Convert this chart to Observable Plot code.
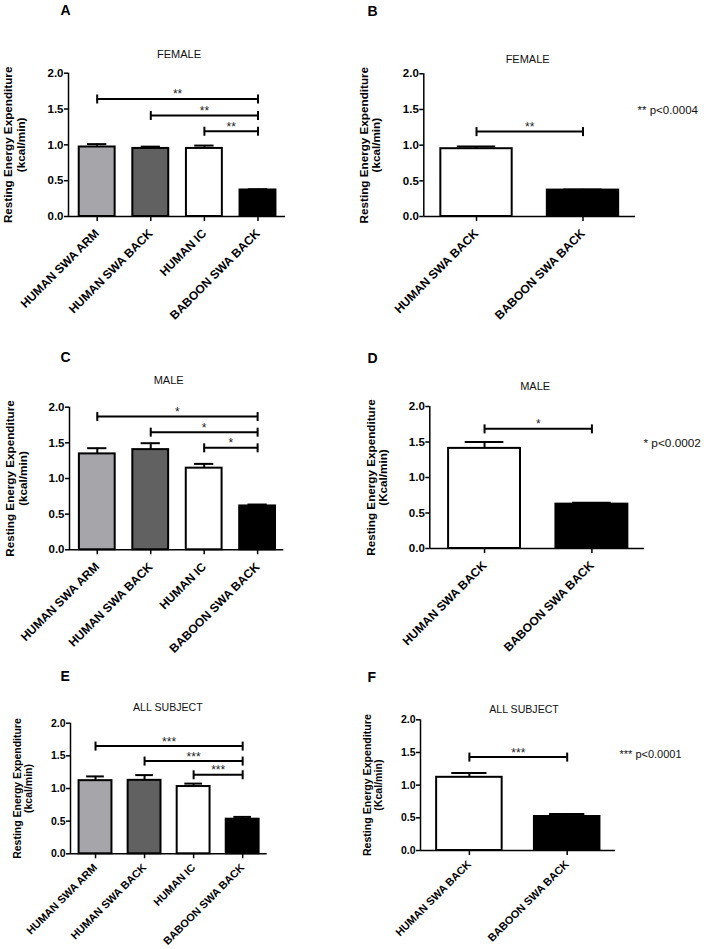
<!DOCTYPE html>
<html>
<head>
<meta charset="utf-8">
<script src="https://cdn.jsdelivr.net/npm/d3@7"></script>
<script src="https://cdn.jsdelivr.net/npm/@observablehq/plot@0.6"></script>
<style>
  html, body { margin: 0; padding: 0; background: #fff; }
  #root { position: relative; width: 704px; height: 949px; overflow: hidden; background: #fff; }
  #root > div { position: absolute; }
</style>
</head>
<body>
<div id="root"></div>
<script>
// ---------- data ----------
const cats4 = ["HUMAN SWA ARM", "HUMAN SWA BACK", "HUMAN IC", "BABOON SWA BACK"];
const cats2 = ["HUMAN SWA BACK", "BABOON SWA BACK"];
const fills4 = ["#a6a6aa", "#616161", "#ffffff", "#000000"];
const fills2 = ["#ffffff", "#000000"];

const femaleMean4 = [0.97, 0.95, 0.95, 0.37];
const femaleSem4  = [0.04, 0.025, 0.04, 0.01];
const femaleMean2 = [0.95, 0.37];
const femaleSem2  = [0.03, 0.01];

const maleMean4 = [1.345, 1.405, 1.145, 0.615];
const maleSem4  = [0.08, 0.09, 0.06, 0.02];
const maleMean2 = [1.41, 0.625];
const maleSem2  = [0.09, 0.02];

const allMean4 = [1.12, 1.125, 1.03, 0.53];
const allSem4  = [0.065, 0.08, 0.045, 0.035];
const allMean2 = [1.12, 0.52];
const allSem2  = [0.065, 0.04];

// significance brackets: from category index -> last category
const sigFrom4 = [0, 1, 2];
const sigFrom2 = [0];
const femaleSigLevel4 = [1.64, 1.41, 1.19];
const femaleSigLevel2 = [1.19];
const maleSigLevel4 = [1.87, 1.65, 1.43];
const maleSigLevel2 = [1.685];
const allSigLevel4 = [1.65, 1.42, 1.21];
const allSigLevel2 = [1.43];

const yTicks = [0, 0.5, 1.0, 1.5, 2.0];
const yLabelLower = "Resting Energy Expenditure\n(kcal/min)";
const yLabelUpper = "Resting Energy Expenditure\n(Kcal/min)";

// ---------- helpers ----------
const FONT = "'Liberation Sans', Arial, Helvetica, sans-serif";
const vTick = {draw(ctx, size) { const r = Math.sqrt(size / Math.PI); ctx.moveTo(0, -r); ctx.lineTo(0, r); }};

function panel(cfg) {
  const cats = cfg.cats;
  const n = cats.length;
  const rows = cats.map((c, i) => ({i, name: c, mean: cfg.mean[i], sem: cfg.sem[i], fill: cfg.fills[i]}));
  const last = n - 1;
  const sig = cfg.sigFrom.map((f, k) => ({from: f, to: last, level: cfg.sigLevel[k], stars: cfg.stars}));
  const half = 0.335, cap = 0.18;
  const f = cfg.font;

  const marks = [
    // bars
    Plot.rect(rows, {x1: d => d.i - half, x2: d => d.i + half, y1: d => 0, y2: "mean",
      fill: "fill", stroke: "#000", strokeWidth: 2}),
    // error bars (upper only)
    Plot.ruleX(rows, {x: "i", y1: "mean", y2: d => d.mean + d.sem, stroke: "#000", strokeWidth: 2}),
    Plot.ruleY(rows, {y: d => d.mean + d.sem, x1: d => d.i - cap, x2: d => d.i + cap, stroke: "#000", strokeWidth: 2}),
    // axes lines
    Plot.ruleY([0], {stroke: "#000", strokeWidth: 1.5}),
    Plot.ruleX([cfg.xdom[0]], {y1: d => 0, y2: d => 2, stroke: "#000", strokeWidth: 1.5}),
    Plot.axisY({ticks: yTicks, tickFormat: d3.format(".1f"), tickSize: 4, tickPadding: 1,
      fontSize: f, fontWeight: "bold", label: null, strokeWidth: 1.5}),
    Plot.axisX({ticks: rows.map(d => d.i), tickFormat: i => cats[i], tickRotate: -45, tickSize: 5,
      tickPadding: cfg.xPad, fontSize: cfg.xFont, fontWeight: "bold", label: null, strokeWidth: 1.5}),
    // significance brackets
    Plot.ruleY(sig, {y: "level", x1: "from", x2: "to", stroke: "#000", strokeWidth: 2}),
    Plot.dot(sig, {x: "from", y: "level", symbol: vTick, r: 4.5, stroke: "#000", strokeWidth: 2, fill: "none"}),
    Plot.dot(sig, {x: "to", y: "level", symbol: vTick, r: 4.5, stroke: "#000", strokeWidth: 2, fill: "none"}),
    Plot.text(sig, {x: d => (d.from + d.to) / 2, y: "level", text: "stars", lineAnchor: "bottom",
      dy: -0.5, fontSize: 12, fontWeight: "normal", fill: "#222"}),
    // y label
    Plot.text([cfg.ylabel], {frameAnchor: "left", text: d => d, rotate: -90, dx: cfg.ylabDx,
      textAnchor: "middle", lineAnchor: "middle", lineHeight: 1.05, fontSize: cfg.ylabFont, fontWeight: "bold"}),
    // title
    Plot.text([cfg.title], {frameAnchor: "top", text: d => d, dx: cfg.titleDx, dy: cfg.titleDy,
      lineAnchor: "bottom", fontSize: cfg.titleFont, fontWeight: "normal", fill: "#111"}),
    // panel letter
    Plot.text([cfg.letter], {frameAnchor: "top-left", text: d => d, dx: cfg.letterDx, dy: cfg.letterDy,
      textAnchor: "start", lineAnchor: "bottom", fontSize: 14, fontWeight: "bold"})
  ];
  if (cfg.pval) {
    marks.push(Plot.text([cfg.pval], {frameAnchor: "top-right", text: d => d, dx: cfg.pDx, dy: cfg.pDy,
      textAnchor: "start", lineAnchor: "middle", fontSize: cfg.pFont, fontWeight: "normal", fill: "#111"}));
  }

  const chart = Plot.plot({
    width: cfg.width, height: cfg.height,
    marginTop: cfg.mt, marginRight: cfg.mr, marginBottom: cfg.mb, marginLeft: cfg.ml,
    x: {type: "linear", domain: cfg.xdom, axis: null},
    y: {domain: [0, 2], axis: null},
    style: {fontFamily: FONT, background: "transparent", overflow: "visible", color: "#000"},
    marks
  });
  const holder = document.createElement("div");
  holder.style.left = cfg.left + "px";
  holder.style.top = cfg.top + "px";
  holder.appendChild(chart);
  document.getElementById("root").appendChild(holder);
}

// ---------- panels ----------
panel({letter: "A", title: "FEMALE", cats: cats4, fills: fills4, mean: femaleMean4, sem: femaleSem4,
  sigFrom: sigFrom4, sigLevel: femaleSigLevel4, stars: "**", ylabel: yLabelLower,
  left: 0, top: 0, width: 340, height: 310, mt: 72.7, mr: 55, mb: 94, ml: 68, xdom: [-0.535, 3.513],
  font: 11.5, xFont: 12, xPad: 10, ylabFont: 11.7, ylabDx: -54, titleFont: 11, titleDx: 2, titleDy: -15.5,
  letterDx: -8, letterDy: -57.7});

panel({letter: "B", title: "FEMALE", cats: cats2, fills: fills2, mean: femaleMean2, sem: femaleSem2,
  sigFrom: sigFrom2, sigLevel: femaleSigLevel2, stars: "**", ylabel: yLabelLower,
  left: 340, top: 0, width: 364, height: 310, mt: 73.3, mr: 69, mb: 94, ml: 83.3, xdom: [-0.495, 1.493],
  font: 11.5, xFont: 12, xPad: 10, ylabFont: 11.7, ylabDx: -54, titleFont: 11, titleDx: -2, titleDy: -11,
  letterDx: -56.3, letterDy: -58.3,
  pval: "** p<0.0004", pDx: 2, pDy: 36.7, pFont: 11.5});

panel({letter: "C", title: "MALE", cats: cats4, fills: fills4, mean: maleMean4, sem: maleSem4,
  sigFrom: sigFrom4, sigLevel: maleSigLevel4, stars: "*", ylabel: yLabelLower,
  left: 0, top: 310, width: 340, height: 310, mt: 96.7, mr: 56.7, mb: 70.7, ml: 69, xdom: [-0.52, 3.49],
  font: 11.5, xFont: 12, xPad: 10, ylabFont: 11.7, ylabDx: -53, titleFont: 11, titleDx: -8, titleDy: -23.5,
  letterDx: -9, letterDy: -45});

panel({letter: "D", title: "MALE", cats: cats2, fills: fills2, mean: maleMean2, sem: maleSem2,
  sigFrom: sigFrom2, sigLevel: maleSigLevel2, stars: "*", ylabel: yLabelUpper,
  left: 340, top: 310, width: 364, height: 310, mt: 96, mr: 60, mb: 72, ml: 89.3, xdom: [-0.51, 1.49],
  font: 11.5, xFont: 12, xPad: 10, ylabFont: 11.7, ylabDx: -53, titleFont: 11, titleDx: -2, titleDy: -17,
  letterDx: -62.3, letterDy: -43.3,
  pval: "* p<0.0002", pDx: -1, pDy: 37, pFont: 11.8});

panel({letter: "E", title: "ALL SUBJECT", cats: cats4, fills: fills4, mean: allMean4, sem: allSem4,
  sigFrom: sigFrom4, sigLevel: allSigLevel4, stars: "***", ylabel: yLabelLower,
  left: 0, top: 620, width: 340, height: 329, mt: 102.7, mr: 73.3, mb: 95.7, ml: 70, xdom: [-0.51, 3.5],
  font: 10.5, xFont: 10.8, xPad: 7, ylabFont: 10.5, ylabDx: -48, titleFont: 10.6, titleDx: -1, titleDy: -12.7,
  letterDx: -10, letterDy: -42.7});

panel({letter: "F", title: "ALL SUBJECT", cats: cats2, fills: fills2, mean: allMean2, sem: allSem2,
  sigFrom: sigFrom2, sigLevel: allSigLevel2, stars: "***", ylabel: yLabelUpper,
  left: 340, top: 620, width: 364, height: 329, mt: 99.3, mr: 89, mb: 99, ml: 80, xdom: [-0.5, 1.494],
  font: 10.5, xFont: 10.8, xPad: 7, ylabFont: 10.6, ylabDx: -48, titleFont: 10.6, titleDx: 6, titleDy: -7,
  letterDx: -53, letterDy: -37.6,
  pval: "*** p<0.0001", pDx: 4, pDy: 34.7, pFont: 11});
</script>
</body>
</html>
